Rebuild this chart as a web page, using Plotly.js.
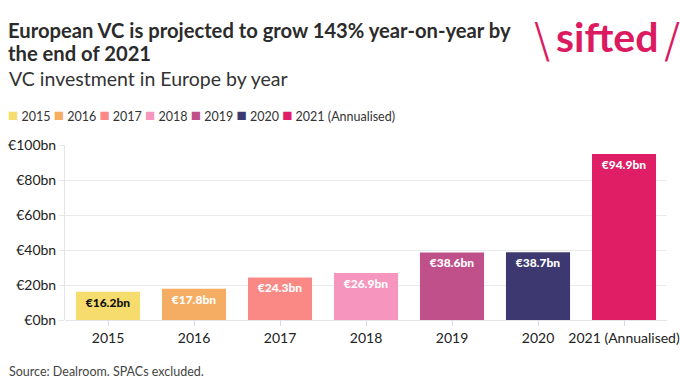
<!DOCTYPE html>
<html>
<head>
<meta charset="utf-8">
<script src="https://cdn.plot.ly/plotly-3.0.1.min.js"></script>
<style>html,body{margin:0;padding:0;background:#fff;}#chart{width:680px;height:383px;}</style>
</head>
<body>
<div id="chart"></div>
<script>
const categories = ["2015", "2016", "2017", "2018", "2019", "2020", "2021 (Annualised)"];
const values = [16.2, 17.8, 24.3, 26.9, 38.6, 38.7, 94.9];
const barColors = ["#f5dc6c", "#f4ad62", "#fa8986", "#f695be", "#c0508a", "#3d3870", "#e01e66"];
const labelColors = ["#111111", "#ffffff", "#ffffff", "#ffffff", "#ffffff", "#ffffff", "#ffffff"];
const yTickVals = [0, 20, 40, 60, 80, 100];
const yTickText = ["€0bn", "€20bn", "€40bn", "€60bn", "€80bn", "€100bn"];

const FONT = "Lato, 'Source Sans Pro', 'Noto Sans', sans-serif";

const traces = categories.map((c, i) => ({
  type: "bar",
  name: c,
  x: [c],
  y: [values[i]],
  marker: { color: barColors[i], line: { width: 0 } },
  text: ["€" + values[i].toFixed(1) + "bn"],
  textposition: "inside",
  insidetextanchor: "end",
  constraintext: "none",
  textangle: 0,
  textfont: { family: FONT, size: 12, color: labelColors[i], weight: 900 },
  hoverinfo: "x+y",
  width: 0.745
}));

const L = 65, R = 13, T = 145, B = 63, W = 680, H = 383;
const pw = W - L - R, ph = H - T - B;
const px = X => (X - L) / pw;
const py = Y => (H - B - Y) / ph;

// legend row built from the same categories/colours
const legendText = categories.map((c, i) =>
  '<span style="color:' + barColors[i] + ';font-size:17px">■</span> ' + c
).join('&nbsp;');

const layout = {
  width: W, height: H,
  margin: { l: L, r: R, t: T, b: B, pad: 0, autoexpand: false },
  paper_bgcolor: "#ffffff",
  plot_bgcolor: "#ffffff",
  font: { family: FONT, color: "#222222", size: 14 },
  barmode: "overlay",
  showlegend: false,
  xaxis: {
    type: "category",
    categoryorder: "array",
    categoryarray: categories,
    showline: false,
    showgrid: false,
    ticks: "outside",
    ticklen: 5,
    tickcolor: "#d8d8d8",
    tickfont: { family: FONT, size: 14, color: "#222222" },
    zeroline: false,
    fixedrange: true
  },
  yaxis: {
    range: [0, 100],
    tickvals: yTickVals,
    ticktext: yTickText,
    showgrid: true,
    gridcolor: "#e9e9ee",
    gridwidth: 1,
    showline: true,
    linecolor: "#e4e4ea",
    linewidth: 1,
    ticks: "outside",
    ticklen: 5,
    tickcolor: "#e4e4ea",
    tickfont: { family: FONT, size: 14, color: "#222222" },
    zeroline: true,
    zerolinecolor: "#e4e4ea",
    fixedrange: true
  },
  annotations: [
    {
      text: "<b>European VC is projected to grow 143% year-on-year by</b>",
      xref: "paper", yref: "paper",
      x: px(6), y: py(30), xanchor: "left", yanchor: "middle", align: "left",
      showarrow: false,
      font: { family: FONT, size: 20.2, color: "#2b2b2b" }
    },
    {
      text: "<b>the end of 2021</b>",
      xref: "paper", yref: "paper",
      x: px(6), y: py(53), xanchor: "left", yanchor: "middle", align: "left",
      showarrow: false,
      font: { family: FONT, size: 20.2, color: "#2b2b2b" }
    },
    {
      text: "VC investment in Europe by year",
      xref: "paper", yref: "paper",
      x: px(7), y: py(79), xanchor: "left", yanchor: "middle",
      showarrow: false,
      font: { family: FONT, size: 19.5, color: "#333333" }
    },
    {
      text: legendText,
      xref: "paper", yref: "paper",
      x: px(6), y: py(114), xanchor: "left", yanchor: "middle",
      showarrow: false,
      font: { family: FONT, size: 12.5, color: "#333333" }
    },
    {
      text: "Source: Dealroom. SPACs excluded.",
      xref: "paper", yref: "paper",
      x: px(7), y: py(371), xanchor: "left", yanchor: "middle",
      showarrow: false,
      font: { family: FONT, size: 12.5, color: "#444444" }
    },
    {
      text: "\\",
      xref: "paper", yref: "paper",
      x: px(542), y: py(40), xanchor: "center", yanchor: "middle",
      showarrow: false,
      font: { family: "'DejaVu Sans', sans-serif", size: 48, color: "#dc1a5f", weight: 200 }
    },
    {
      text: "<b>sifted</b>",
      xref: "paper", yref: "paper",
      x: px(607), y: py(36), xanchor: "center", yanchor: "middle",
      showarrow: false,
      font: { family: "Lato, sans-serif", size: 41, color: "#dc1a5f" }
    },
    {
      text: "/",
      xref: "paper", yref: "paper",
      x: px(672), y: py(40), xanchor: "center", yanchor: "middle",
      showarrow: false,
      font: { family: "'DejaVu Sans', sans-serif", size: 48, color: "#dc1a5f", weight: 200 }
    }
  ]
};

Plotly.newPlot("chart", traces, layout, { displayModeBar: false, staticPlot: true });
</script>
</body>
</html>
